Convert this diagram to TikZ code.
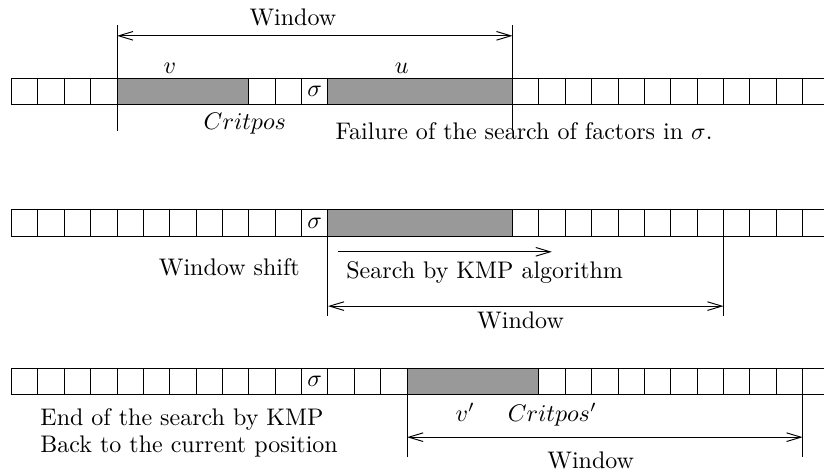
\documentclass[tikz,border=0pt]{standalone}
\usetikzlibrary{positioning, fit, arrows.meta}

\begin{document}
\begin{tikzpicture}[x=0.386cm, y=0.386cm,
  cell/.style={draw, minimum size=0.386cm, inner sep=0pt, outer sep=0pt},
  block/.style={draw, fill=black!40, inner sep=0pt, outer sep=0pt},
  lbl/.style={inner sep=0pt, anchor=base west},
  dim/.style={{Straight Barb[length=6pt,width=3.6pt]}-{Straight Barb[length=6pt,width=3.6pt]}},
  search/.style={-{Straight Barb[length=6pt,width=3.6pt]}}]

\useasboundingbox (-0.436,-0.042) rectangle (30.81,-18.017);
\clip (-0.436,-0.042) rectangle (30.81,-18.017);

% Cells of the three rows
\foreach \i in {0,...,30} {
  \node[cell] (a\i) at (\i+0.5,-3.5) {};
  \node[cell] (b\i) at (\i+0.5,-8.5) {};
  \node[cell] (c\i) at (\i+0.5,-14.5) {};
}

% Shaded factors
\node[block, fit=(a4) (a8)] (v) {};
\node[block, fit=(a12) (a18)] (u) {};
\node[block, fit=(b12) (b18)] (u2) {};
\node[block, fit=(c15) (c19)] (v2) {};

% Sigma cells
\node (sig1) at (a11) {$\sigma$};
\node (sig2) at (b11) {$\sigma$};
\node (sig3) at (c11) {$\sigma$};

% First row: failure
\coordinate (t1l) at (4,-1);
\coordinate (t1lb) at (4,-5);
\coordinate (t1r) at (19,-1);
\coordinate (t1rb) at (19,-5);
\coordinate (w1l) at (4,-1.4);
\coordinate (w1r) at (19,-1.4);
\draw (t1l) -- (t1lb);
\draw (t1r) -- (t1rb);
\draw[dim] (w1l) -- (w1r);
\node[lbl, anchor=base] (win1) at (10.67,-1.02) {Window};
\node[lbl, anchor=base] (vlab) at (6.01,-2.82) {$v$};
\node[lbl, anchor=base] (ulab) at (14.8,-2.82) {$u$};
\node[lbl] (crit) at (7.27,-4.95) {$Critpos$};
\node[lbl] (fail) at (12.27,-5.35) {Failure of the search of factors in $\sigma$.};

% Second row: shift and KMP search
\coordinate (t2l) at (12,-9);
\coordinate (t2lb) at (12,-12.03);
\coordinate (t2r) at (27,-9);
\coordinate (t2rb) at (27,-12.03);
\coordinate (w2l) at (12,-11.65);
\coordinate (w2r) at (27,-11.65);
\coordinate (s1) at (12.39,-9.59);
\coordinate (s2) at (20.49,-9.59);
\draw (t2l) -- (t2lb);
\draw (t2r) -- (t2rb);
\draw[dim] (w2l) -- (w2r);
\draw[search] (s1) -- (s2);
\node[lbl] (shift) at (5.57,-10.47) {Window shift};
\node[lbl] (kmp) at (12.68,-10.6) {Search by KMP algorithm};
\node[lbl] (win2) at (17.64,-12.48) {Window};

% Third row: back to the current position
\coordinate (t3l) at (15,-15);
\coordinate (t3lb) at (15,-17.37);
\coordinate (t3r) at (30,-15);
\coordinate (t3rb) at (30,-17.37);
\coordinate (w3l) at (15,-16.62);
\coordinate (w3r) at (30,-16.62);
\draw (t3l) -- (t3lb);
\draw (t3r) -- (t3rb);
\draw[dim] (w3l) -- (w3r);
\node[lbl] (endkmp) at (1.08,-16.16) {End of the search by KMP};
\node[lbl] (back) at (1.08,-17.21) {Back to the current position};
\node[lbl] (vprime) at (16.82,-16.03) {$v'$};
\node[lbl] (critprime) at (18.8,-16.03) {$Critpos'$};
\node[lbl] (win3) at (20.3,-17.79) {Window};

\end{tikzpicture}
\end{document}
